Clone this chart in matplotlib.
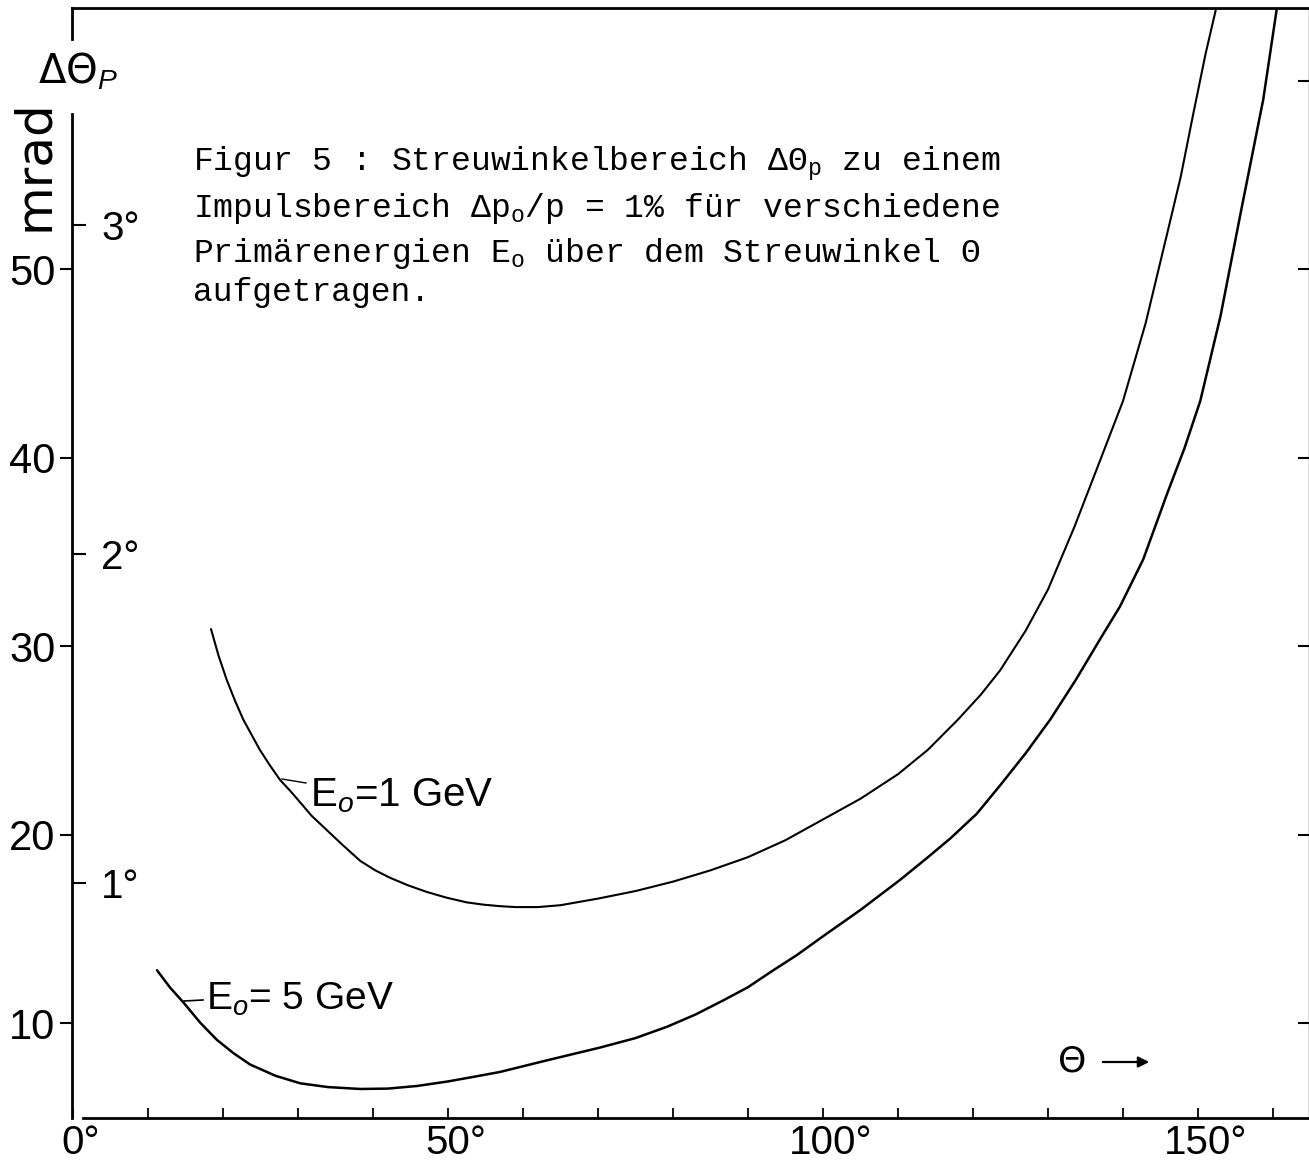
import matplotlib
matplotlib.use('Agg')
import matplotlib.pyplot as plt
import matplotlib.transforms as mtransforms
from matplotlib.lines import Line2D
import numpy as np

W, H = 1309, 1171
plt.rcParams['font.family'] = ['Liberation Sans', 'DejaVu Sans']
plt.rcParams['mathtext.fontset'] = 'custom'
plt.rcParams['mathtext.rm'] = 'Liberation Sans'
plt.rcParams['mathtext.it'] = 'Liberation Sans:italic'
plt.rcParams['mathtext.tt'] = 'Liberation Mono'

# ---------------- data (scattering angle in degrees, delta theta in mrad) -------------
theta_1gev = [18.4, 19.4, 20.5, 21.6, 22.7, 23.8, 24.9, 26.2, 27.6, 29.0, 30.3, 31.8,
              33.4, 35.8, 38.3, 40.3, 42.3, 44.7, 47.2, 49.8, 52.5, 54.7, 56.9, 59.0,
              62.0, 65.0, 70.0, 75.0, 80.0, 85.0, 90.0, 95.0, 100.0, 105.0, 110.0,
              114.0, 118.0, 121.0, 123.6, 127.0, 130.0, 133.5, 137.0, 140.0, 143.0,
              145.9, 147.7, 149.3, 151.0, 152.4]
dtheta_1gev = [30.9, 29.5, 28.2, 27.1, 26.1, 25.3, 24.5, 23.7, 22.9, 22.3, 21.7, 21.0,
               20.4, 19.5, 18.6, 18.1, 17.7, 17.3, 16.95, 16.65, 16.4, 16.28, 16.2, 16.15,
               16.15, 16.25, 16.6, 17.0, 17.5, 18.1, 18.8, 19.7, 20.8, 21.9, 23.2,
               24.5, 26.1, 27.4, 28.7, 30.8, 33.0, 36.3, 39.9, 43.0, 47.1,
               51.9, 54.9, 58.1, 61.4, 63.8]

theta_5gev = [11.2, 12.9, 14.7, 17.0, 19.2, 21.4, 23.6, 27.0, 30.3, 34.0, 38.3, 42.0,
              45.9, 50.0, 53.5, 56.9, 63.0, 70.3, 75.0, 79.2, 83.0, 86.7, 90.0, 93.0,
              96.5, 100.0, 105.0, 110.3, 114.0, 117.0, 120.5, 123.6, 127.0, 130.3,
              133.7, 137.0, 139.6, 142.7, 145.9, 148.2, 150.3, 153.0, 155.6, 157.3,
              158.7, 160.5]
dtheta_5gev = [12.8, 11.9, 11.1, 10.0, 9.1, 8.4, 7.8, 7.2, 6.8, 6.6, 6.5, 6.52,
               6.66, 6.9, 7.15, 7.4, 8.0, 8.7, 9.2, 9.8, 10.45, 11.2, 11.9, 12.7,
               13.6, 14.6, 16.0, 17.6, 18.8, 19.8, 21.1, 22.6, 24.3, 26.1,
               28.2, 30.4, 32.1, 34.6, 38.1, 40.5, 43.0, 47.5, 52.8, 56.2,
               59.0, 63.8]

y_ticks_mrad = [10, 20, 30, 40, 50]
y_ticklabels = ['10', '20', '30', '40', '50']
deg_ticks = [1, 2, 3]
deg_ticklabels = ['1°', '2°', '3°']
x_major = [0, 50, 100, 150]
x_ticklabels = ['0°', '50°', '100°', '150°']
x_minor = [10, 20, 30, 40, 60, 70, 80, 90, 110, 120, 130, 140, 160]
right_ticks = [10, 20, 30, 40, 50, 60]

caption_lines = ['Figur 5 : Streuwinkelbereich ΔΘ$_\\mathtt{p}$ zu einem',
                 'Impulsbereich Δp$_\\mathtt{o}$/p = 1% für verschiedene',
                 'Primärenergien E$_\\mathtt{o}$ über dem Streuwinkel Θ',
                 'aufgetragen.']
caption_baseline_px = [171, 217, 262, 301]
label_1gev = 'E$_\\mathit{o}$=1 GeV'
label_5gev = 'E$_\\mathit{o}$= 5 GeV'

# ---------------- figure -------------
fig = plt.figure(figsize=(W / 100, H / 100), dpi=100)
fig.patch.set_facecolor('white')

def fx(px):
    return px / W

def fy(py):
    return 1 - py / H

left_px, right_px, top_px, bot_px = 72, 1309, 8, 1118
ax = fig.add_axes([fx(left_px), fy(bot_px), fx(right_px) - fx(left_px), fy(top_px) - fy(bot_px)])
x0, x1 = (left_px - 73) / 7.5, (right_px - 73) / 7.5
ylo, yhi = 4.96, 63.85
ax.set_xlim(x0, x1)
ax.set_ylim(ylo, yhi)

ax.plot(theta_1gev, dtheta_1gev, color='black', lw=1.5, solid_capstyle='round',
        solid_joinstyle='round')
ax.plot(theta_5gev, dtheta_5gev, color='black', lw=1.8, solid_capstyle='round',
        solid_joinstyle='round')

# spines
for s in ['left', 'bottom', 'top']:
    ax.spines[s].set_linewidth(2.0)
ax.spines['right'].set_linewidth(1.0)
ax.spines['right'].set_color('#555555')
ax.spines['left'].set_bounds(ylo, 58.2)
ax.spines['bottom'].set_bounds(1.3, x1)
ax.plot([x0, x0], [62.2, yhi], color='black', lw=2.0, clip_on=False)

# y ticks (mrad) on the left
ax.set_yticks(y_ticks_mrad)
ax.set_yticklabels(y_ticklabels)
ax.tick_params(axis='y', direction='out', length=9, width=1.5, pad=3, labelsize=30)

# x ticks
ax.set_xticks(x_major)
ax.set_xticklabels(x_ticklabels)
ax.set_xticks(x_minor, minor=True)
ax.tick_params(axis='x', which='both', direction='in', length=7, width=1.3, pad=4, labelsize=29)
offset = mtransforms.ScaledTranslation(8 / 100, 0, fig.dpi_scale_trans)
for lbl in ax.get_xticklabels():
    lbl.set_transform(lbl.get_transform() + offset)

# degree ticks on the inner side of the left axis
sec = ax.secondary_yaxis(0, functions=(lambda v: v * 180 / (1000 * np.pi),
                                       lambda d: d * 1000 * np.pi / 180))
sec.set_alignment('right')
sec.set_yticks(deg_ticks)
sec.set_yticklabels(deg_ticklabels)
sec.tick_params(axis='y', direction='out', length=10, width=1.5, pad=11, labelsize=29)
for sp in sec.spines.values():
    sp.set_visible(False)

# right-side inward ticks
sec_r = ax.secondary_yaxis('right', functions=(lambda v: v, lambda v: v))
sec_r.set_yticks(right_ticks)
sec_r.set_yticklabels([])
sec_r.tick_params(axis='y', direction='in', length=8, width=1.5)
for sp in sec_r.spines.values():
    sp.set_visible(False)

# axis annotations
fig.text(fx(38), fy(72), 'ΔΘ$_\\mathit{P}$', fontsize=29, ha='left', va='center',
         family=['DejaVu Sans'])
fig.text(fx(34), fy(165), 'mrad', fontsize=36, rotation=90, ha='center', va='center',
         family=['DejaVu Sans'])
fig.text(fx(1072), fy(1061), 'Θ', fontsize=26, ha='center', va='center', family=['DejaVu Sans'])
ax.annotate('', xy=(fx(1152), fy(1062)), xytext=(fx(1100), fy(1062)),
            xycoords='figure fraction', textcoords='figure fraction',
            arrowprops=dict(arrowstyle='-|>', color='black', lw=1.6, mutation_scale=16))

# curve labels with leader lines
fig.text(fx(310), fy(796), label_1gev, fontsize=29, ha='left', va='center')
fig.add_artist(Line2D([fx(282), fx(306)], [fy(779), fy(783)], color='black', lw=1.0))
fig.text(fx(206), fy(999), label_5gev, fontsize=28, ha='left', va='center')
fig.add_artist(Line2D([fx(184), fx(203)], [fy(1001), fy(1000)], color='black', lw=1.2))

# caption in typewriter font
for line, ypx in zip(caption_lines, caption_baseline_px):
    fig.text(fx(193), fy(ypx), line, fontsize=23.8, ha='left', va='baseline',
             family=['Liberation Mono', 'DejaVu Sans Mono'])

fig.savefig('out.png', dpi=100, facecolor='white')
